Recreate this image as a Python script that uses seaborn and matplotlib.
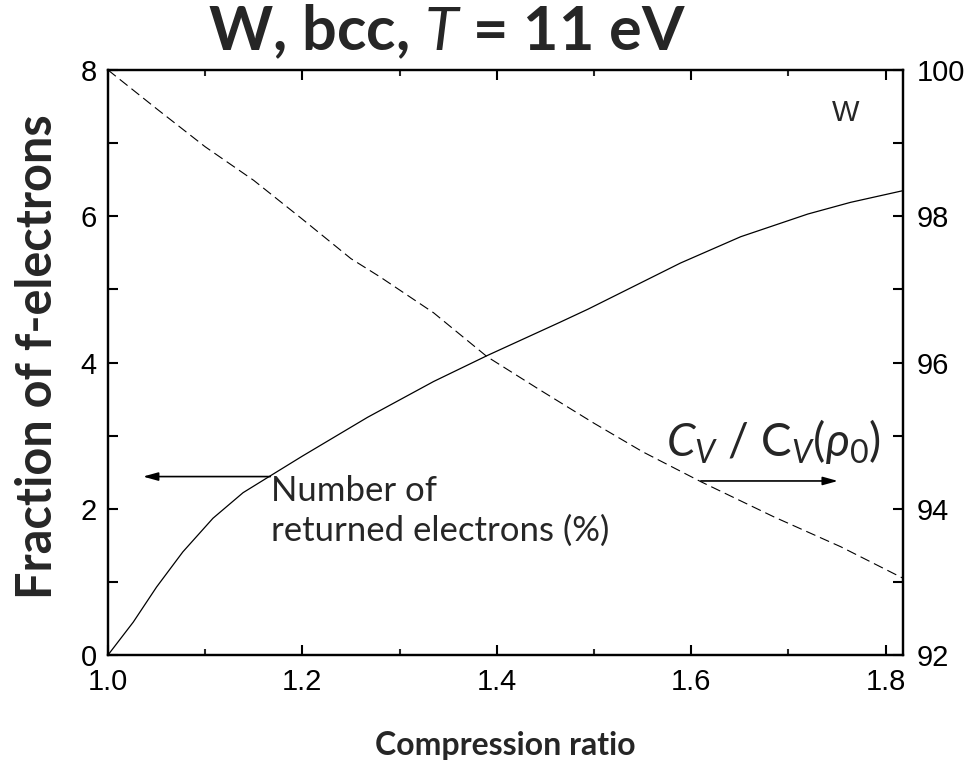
import matplotlib
matplotlib.use("Agg")
import matplotlib.pyplot as plt
import seaborn as sns
import pandas as pd
from matplotlib.ticker import MultipleLocator

# ---- data ----
x_frac = [1.0, 1.026, 1.05, 1.077, 1.108, 1.139, 1.167, 1.2, 1.267, 1.335,
          1.391, 1.465, 1.494, 1.589, 1.651, 1.72, 1.764, 1.818]
frac_f = [0.0, 0.45, 0.93, 1.41, 1.87, 2.22, 2.45, 2.72, 3.25, 3.74,
          4.1, 4.55, 4.73, 5.36, 5.72, 6.03, 6.19, 6.35]

x_cv = [1.0, 1.05, 1.1, 1.15, 1.2, 1.25, 1.28, 1.335, 1.39, 1.445,
        1.5, 1.55, 1.61, 1.685, 1.754, 1.818]
cv_ratio = [100.0, 99.47, 98.95, 98.49, 97.96, 97.42, 97.17, 96.68, 96.08, 95.62,
            95.17, 94.78, 94.37, 93.89, 93.48, 93.05]

x_ticks = [1.0, 1.2, 1.4, 1.6, 1.8]
x_ticklabels = ["1.0", "1.2", "1.4", "1.6", "1.8"]
yl_ticks = [0, 2, 4, 6, 8]
yr_ticks = [92, 94, 96, 98, 100]

df_f = pd.DataFrame({"x": x_frac, "y": frac_f})
df_c = pd.DataFrame({"x": x_cv, "y": cv_ratio})

sns.set_style("ticks")
plt.rcParams["font.family"] = ["Liberation Sans", "DejaVu Sans"]
plt.rcParams["mathtext.fontset"] = "custom"
plt.rcParams["mathtext.rm"] = "Lato"
plt.rcParams["mathtext.it"] = "Lato:italic"
plt.rcParams["mathtext.bf"] = "Lato:bold"

fig = plt.figure(figsize=(9.74, 7.82), dpi=100)
ax = fig.add_axes([108/974, 1-655/782, 795/974, 585/782])
ax2 = ax.twinx()

sns.lineplot(data=df_f, x="x", y="y", ax=ax, color="black", lw=0.9)
sns.lineplot(data=df_c, x="x", y="y", ax=ax2, color="black", lw=0.8)
ax2.lines[0].set_dashes((9, 4.5))

ax.set_xlim(1.0, 1.818)
ax.set_ylim(0, 8)
ax2.set_ylim(92, 100)

ax.set_xticks(x_ticks)
ax.set_xticklabels(x_ticklabels)
ax.xaxis.set_minor_locator(MultipleLocator(0.1))
ax.set_yticks(yl_ticks)
ax.yaxis.set_minor_locator(MultipleLocator(1))
ax2.set_yticks(yr_ticks)
ax2.yaxis.set_minor_locator(MultipleLocator(1))

for a in (ax, ax2):
    for s in a.spines.values():
        s.set_linewidth(1.6)
        s.set_color("black")
    a.set_xlabel("")
    a.set_ylabel("")

ax.tick_params(axis="x", which="major", direction="in", length=7.5, width=1.5,
               top=True, bottom=True, labelsize=21, pad=9, colors="black")
ax.tick_params(axis="x", which="minor", direction="in", length=4, width=1.5,
               top=True, bottom=True)
ax.tick_params(axis="y", which="both", direction="in", length=7, width=1.5,
               labelsize=21, pad=8, colors="black")
ax2.tick_params(axis="y", which="both", direction="in", length=7, width=1.5,
                labelsize=21, pad=10, colors="black")

# annotations
ax.annotate("", xy=(1.036, 2.44), xytext=(1.167, 2.44),
            arrowprops=dict(arrowstyle="-|>,head_length=0.9,head_width=0.25",
                            color="black", lw=1.2, shrinkA=0, shrinkB=0))
ax.annotate("", xy=(1.751, 2.38), xytext=(1.61, 2.38),
            arrowprops=dict(arrowstyle="-|>,head_length=0.9,head_width=0.25",
                            color="black", lw=1.2, shrinkA=0, shrinkB=0))

ax.text(1.168, 1.97, "Number of\nreturned electrons (%)", family="Lato",
        fontsize=25, ha="left", va="center", linespacing=1.3)
ax.text(1.795, 2.72, r"$\mathit{C_V}$ / C$_{\mathit{V}}$($\mathit{\rho_0}$)",
        family="Lato", fontsize=33, ha="right", va="baseline")
ax.text(1.759, 7.41, "W", fontsize=21, ha="center", va="center")

fig.text(447/974, 1-32/782, r"W, bcc, $\mathbf{\mathit{T}}$ = 11 eV", family="Lato",
         fontweight="bold", fontsize=44, ha="center", va="center")
fig.text(505/974, 1-745/782, "Compression ratio", family="Lato",
         fontweight="bold", fontsize=23, ha="center", va="center")
fig.text(38/974, 1-357/782, "Fraction of f-electrons", family="Lato",
         fontweight="bold", fontsize=35, ha="center", va="center", rotation=90)

fig.savefig("out.png", dpi=100)
